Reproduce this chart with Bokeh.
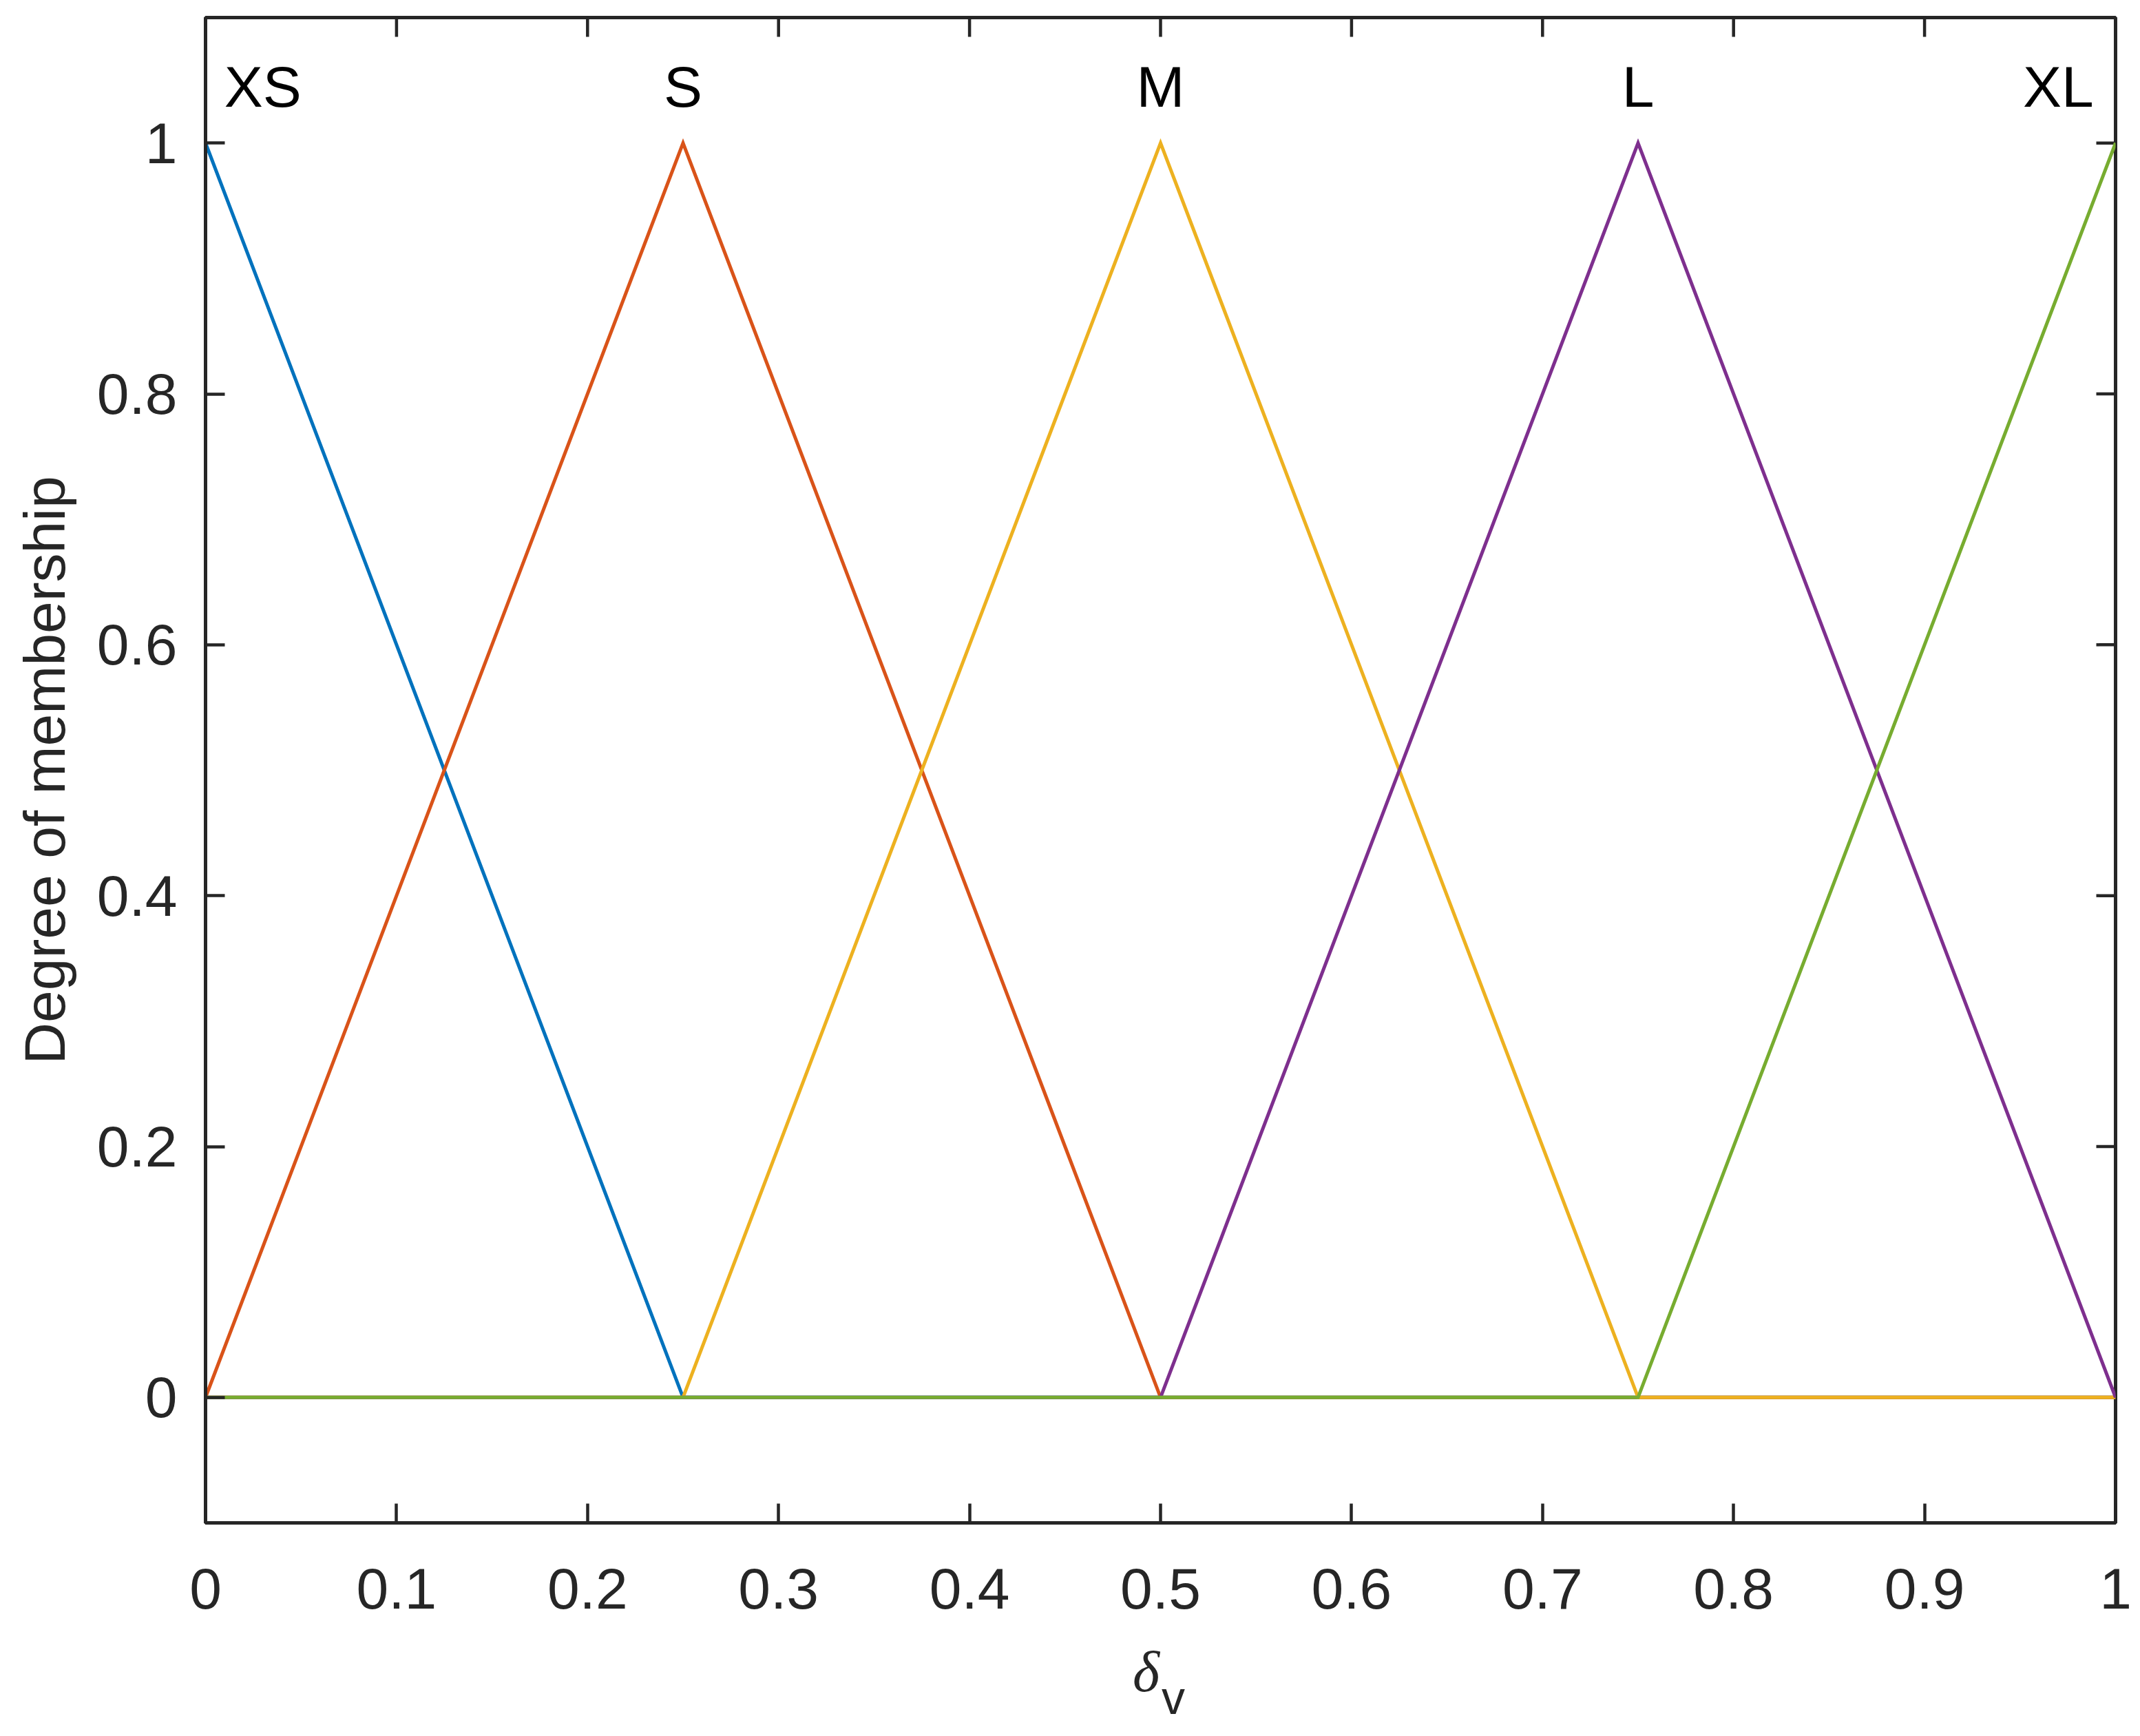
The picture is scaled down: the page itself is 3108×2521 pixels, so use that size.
import math
from bokeh.plotting import figure
from bokeh.layouts import column
from bokeh.models import LinearAxis, FixedTicker, Range1d, ColumnDataSource
from bokeh.core.properties import value
from bokeh.embed import file_html
from bokeh.resources import INLINE

# ---- data ----
x_xs = [0, 0.25, 1]
y_xs = [1, 0, 0]
x_s = [0, 0.25, 0.5, 1]
y_s = [0, 1, 0, 0]
x_m = [0, 0.25, 0.5, 0.75, 1]
y_m = [0, 0, 1, 0, 0]
x_l = [0, 0.5, 0.75, 1]
y_l = [0, 0, 1, 0]
x_xl = [0, 0.75, 1]
y_xl = [0, 0, 1]

mf_names = ["XS", "S", "M", "L", "XL"]
mf_label_x = [0.03, 0.25, 0.5, 0.75, 0.97]
mf_label_y = [1.045, 1.045, 1.045, 1.045, 1.045]

x_ticks = [0, 0.1, 0.2, 0.3, 0.4, 0.5, 0.6, 0.7, 0.8, 0.9, 1]
x_tick_labels = ["0", "0.1", "0.2", "0.3", "0.4", "0.5", "0.6", "0.7", "0.8", "0.9", "1"]
y_ticks = [0, 0.2, 0.4, 0.6, 0.8, 1]
y_tick_labels = ["0", "0.2", "0.4", "0.6", "0.8", "1"]

x_label_main = "δ"
x_label_sub = "v"
y_label = "Degree of membership"

colors = ["#0072BD", "#D95319", "#EDB120", "#7E2F8E", "#77AC30"]

AX = "#262626"
FONT = "Liberation Sans"
FS = "84px"
LEFT, RIGHT, TOP = 298, 36, 25
FW, FH = 2774, 2186
BOTTOM = 170
TICK = 28

p = figure(frame_width=FW, frame_height=FH,
           x_range=Range1d(0, 1), y_range=Range1d(-0.1, 1.1),
           output_backend="svg", toolbar_location=None,
           min_border_left=LEFT, min_border_top=TOP,
           min_border_right=RIGHT, min_border_bottom=BOTTOM,
           x_axis_location=None, y_axis_location=None)
p.grid.visible = False
p.outline_line_color = AX
p.outline_line_width = 5
p.background_fill_color = "white"
p.border_fill_color = "white"

def style_axis(ax, ticks, labels, standoff):
    ax.ticker = FixedTicker(ticks=ticks)
    ax.major_label_overrides = {t: l for t, l in zip(ticks, labels)}
    ax.axis_line_color = AX
    ax.axis_line_width = 5
    ax.major_tick_line_color = AX
    ax.major_tick_line_width = 4.5
    ax.major_tick_in = TICK
    ax.major_tick_out = 0
    ax.minor_tick_line_color = None
    ax.major_label_text_color = AX
    ax.major_label_text_font = FONT
    ax.major_label_text_font_size = FS
    ax.major_label_standoff = standoff

xb = LinearAxis()
style_axis(xb, x_ticks, x_tick_labels, 66)
p.add_layout(xb, "below")

yl = LinearAxis(axis_label=y_label)
style_axis(yl, y_ticks, y_tick_labels, 41)
yl.axis_label_text_font = FONT
yl.axis_label_text_font_size = FS
yl.axis_label_text_font_style = "normal"
yl.axis_label_text_color = AX
yl.axis_label_standoff = 26
p.add_layout(yl, "left")

# inward ticks on the top and right edges of the box
p.ray(x=x_ticks, y=p.y_range.end, length=TICK, length_units="screen",
      angle=-math.pi / 2, line_color=AX, line_width=4.5)
p.ray(x=p.x_range.end, y=y_ticks, length=TICK, length_units="screen",
      angle=math.pi, line_color=AX, line_width=4.5)

series = [(x_xs, y_xs), (x_s, y_s), (x_m, y_m), (x_l, y_l), (x_xl, y_xl)]
for (xs, ys), c in zip(series, colors):
    p.line(xs, ys, line_color=c, line_width=5, line_join="miter")

src = ColumnDataSource(dict(x=mf_label_x, y=mf_label_y, t=mf_names))
p.text(x="x", y="y", text="t", source=src, text_align="center",
       text_baseline="alphabetic", text_color="black",
       text_font=value(FONT), text_font_size=FS)

# x-axis label strip (δ with subscript v), sharing the x scale
H2 = 135
p2 = figure(frame_width=FW, frame_height=H2,
            x_range=p.x_range, y_range=Range1d(H2, 0),
            output_backend="svg", toolbar_location=None,
            min_border_left=LEFT, min_border_right=RIGHT,
            min_border_top=0, min_border_bottom=0,
            x_axis_location=None, y_axis_location=None)
p2.grid.visible = False
p2.outline_line_color = None
p2.background_fill_color = "white"
p2.border_fill_color = "white"
p2.text(x=[0.4995], y=[46], text=[x_label_main], text_align="right",
        text_baseline="alphabetic", text_color=AX,
        text_font=value("Liberation Serif"), text_font_style="italic",
        text_font_size="84px")
p2.text(x=[0.5005], y=[83], text=[x_label_sub], text_align="left",
        text_baseline="alphabetic", text_color=AX,
        text_font=value(FONT), text_font_size="68px")

layout = column(p, p2, spacing=0)
open("out.html", "w").write(file_html(layout, INLINE))
